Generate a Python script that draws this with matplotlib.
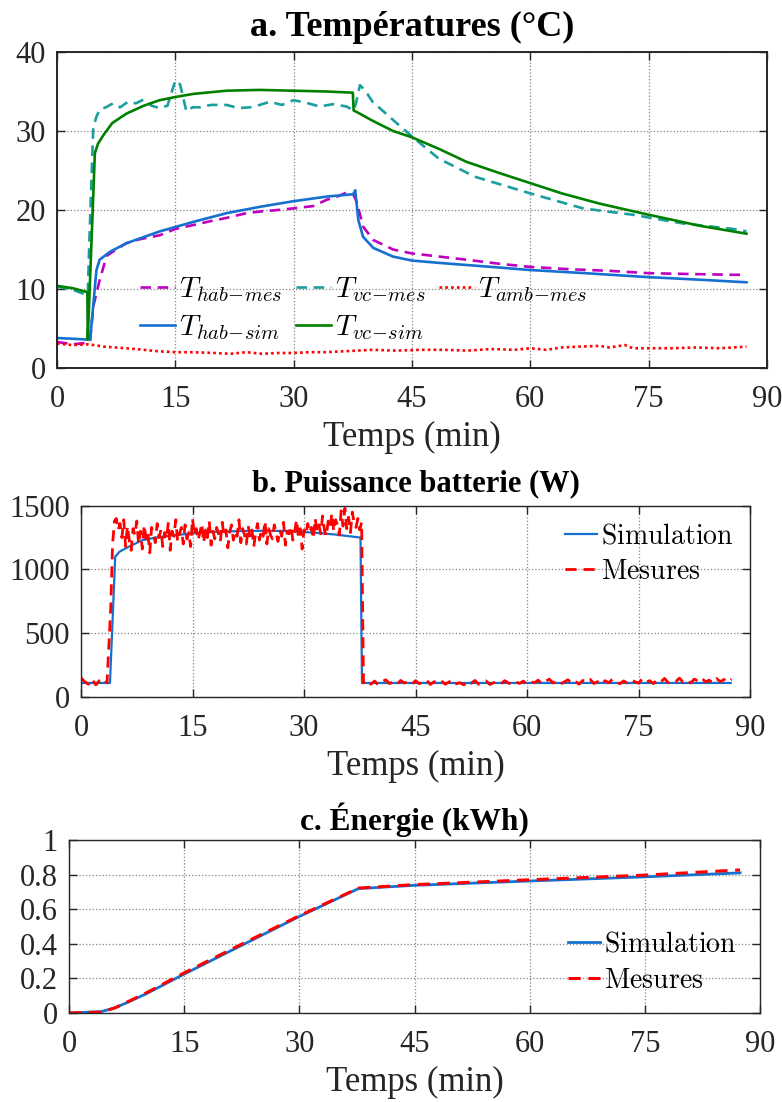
import numpy as np
import matplotlib.pyplot as plt

plt.rcParams['font.family'] = ['Liberation Serif', 'DejaVu Serif']
plt.rcParams['mathtext.fontset'] = 'cm'

# a. Températures (°C)
t_vc_sim = [0, 2, 3.85, 3.9, 4.8, 5.2, 5.9, 7, 8.8, 11, 13, 15, 17.3, 21.5, 25.7, 29.9, 34.2, 37.5,
            37.6, 38, 40, 42.6, 45, 48.5, 51.9, 56, 60, 64, 68.8, 75, 81.5, 87.4]
T_vc_sim = [10.4, 10.1, 9.6, 3.6, 27.2, 28.4, 29.5, 31.0, 32.2, 33.2, 33.9, 34.3, 34.7, 35.1, 35.2, 35.1, 35.0, 34.85,
            32.6, 32.4, 31.3, 30.0, 29.2, 27.7, 26.1, 24.7, 23.4, 22.1, 20.8, 19.4, 18.0, 17.0]

t_vc_mes = [0, 2, 3.9, 4.1, 4.6, 5.0, 5.4, 6.2, 7.1, 8.0, 9.0, 10.0, 11.0, 12.0, 13.0, 14.0, 15.0, 15.6,
            16.4, 17.2, 18.1, 19.5, 21.5, 23.0, 24.5, 25.7, 27.0, 28.5, 30.0, 31.5, 33.3, 35.0, 36.7, 37.6,
            37.9, 38.4, 39.0, 40.0, 42.6, 45.0, 48.4, 53.0, 60.0, 66.7, 73.0, 79.3, 85.7, 87.4]
T_vc_mes = [10.3, 9.9, 9.2, 16, 30.5, 31.8, 32.7, 33.0, 33.5, 33.0, 33.7, 33.5, 34.0, 33.2, 32.9, 33.2, 36.4, 35.9,
            32.5, 33.0, 33.0, 33.3, 33.3, 32.9, 33.0, 33.3, 33.7, 33.3, 33.9, 33.6, 33.1, 33.4, 33.1, 32.6,
            33.5, 35.8, 35.2, 33.7, 31.4, 29.3, 26.5, 24.2, 22.1, 20.2, 19.4, 18.3, 17.6, 17.3]

t_hab_sim = [0, 2, 3.9, 4.2, 5.0, 5.4, 6.7, 8.8, 13.05, 17.3, 21.5, 25.7, 29.9, 34.2, 37.6, 37.8,
             38.2, 38.8, 40.1, 42.6, 45, 48.5, 55, 60, 67, 75, 81, 87.4]
T_hab_sim = [3.8, 3.7, 3.6, 3.6, 12.4, 13.7, 14.7, 15.8, 17.3, 18.5, 19.6, 20.4, 21.1, 21.7, 22.0, 22.5,
             18.7, 16.6, 15.2, 14.1, 13.6, 13.3, 12.8, 12.4, 12.0, 11.5, 11.2, 10.85]

t_hab_mes = [0, 2, 3.9, 4.2, 4.6, 5.4, 6.3, 7.5, 8.8, 10.5, 13, 15, 17.3, 19.5, 21.5, 24, 25.7, 28, 29.9,
             32.5, 34.2, 35.5, 36.7, 37.5, 38.0, 38.8, 40.1, 42.6, 45, 48.5, 52, 56, 60, 65, 70, 75, 80, 85.7, 87.4]
T_hab_mes = [3.3, 3.0, 3.2, 3.5, 7.8, 11.1, 14.2, 15.0, 15.8, 16.3, 16.8, 17.6, 18.1, 18.6, 19.0, 19.6, 19.8, 20.0, 20.2,
             20.5, 21.3, 21.7, 22.2, 22.1, 21.0, 17.9, 16.2, 15.0, 14.5, 14.1, 13.7, 13.2, 12.8, 12.5, 12.3, 12.0, 11.9, 11.8, 11.8]

t_amb = [0, 2, 4, 6, 8.8, 11, 13, 15, 17, 20, 22, 24, 26, 28, 30, 32, 34, 36, 38, 40, 43, 46, 49,
         52, 55, 58, 60, 62, 64, 66, 68.8, 70, 72, 73, 75, 78, 81, 84, 87.4]
T_amb = [3.1, 2.9, 3.0, 2.7, 2.5, 2.3, 2.1, 2.0, 2.0, 1.9, 1.8, 2.0, 1.8, 1.9, 1.9, 2.0, 2.0, 2.1, 2.2, 2.3, 2.2, 2.3, 2.3,
         2.2, 2.4, 2.3, 2.5, 2.3, 2.6, 2.7, 2.8, 2.6, 2.9, 2.5, 2.5, 2.5, 2.6, 2.5, 2.7]

# b. Puissance batterie (W)
t_p_sim = [0, 3.8, 3.9, 4.6, 5.2, 6.4, 8.2, 10, 12.5, 15.6, 18.5, 21.8, 25, 28, 31.7, 34.2, 37.6, 37.8, 87.4]
P_sim = [110, 110, 110, 1100, 1140, 1177, 1229, 1250, 1268, 1287, 1296, 1302, 1303, 1302, 1287, 1274, 1250, 110, 110]

# mesures : 0.5 min avant/après, 0.25 min pendant la charge
t_p_mes = np.concatenate([np.arange(0, 4, 0.5), np.arange(4, 38, 0.25), np.arange(38, 88, 0.5)])
P_mes = [150, 120, 100, 140, 95, 130, 145, 110,
         700, 1200, 1380, 1400, 1310, 1360, 1250, 1390,
         1180, 1340, 1230, 1150, 1320, 1270, 1380, 1200,
         1300, 1160, 1350, 1240, 1290, 1130, 1330, 1270,
         1210, 1360, 1250, 1310, 1180, 1290, 1240, 1370,
         1150, 1300, 1260, 1390, 1220, 1280, 1330, 1200,
         1350, 1240, 1290, 1180, 1400, 1270, 1320, 1230,
         1290, 1360, 1210, 1310, 1250, 1380, 1190, 1300,
         1240, 1330, 1280, 1220, 1370, 1260, 1310, 1170,
         1290, 1350, 1230, 1300, 1260, 1390, 1210, 1320,
         1270, 1200, 1340, 1250, 1310, 1180, 1290, 1360,
         1230, 1300, 1260, 1380, 1200, 1320, 1270, 1240,
         1350, 1290, 1220, 1310, 1260, 1370, 1190, 1300,
         1280, 1340, 1230, 1300, 1390, 1250, 1320, 1160,
         1310, 1270, 1360, 1290, 1330, 1240, 1400, 1300,
         1350, 1280, 1420, 1310, 1260, 1380, 1330, 1440,
         1300, 1390, 1350, 1270, 1460, 1340, 1480, 1320,
         1410, 1290, 1450, 1360, 1330, 1400, 1310, 1370,
         110, 130, 100, 125, 95, 120, 135, 105, 118, 98, 130, 110, 122, 100, 128, 105, 115, 132, 98, 120,
         108, 126, 100, 118, 135, 104, 112, 95, 122, 108, 130, 100, 116, 126, 98, 112, 120, 104, 128, 110,
         98, 118, 106, 125, 100, 120, 112, 132, 104, 122, 140, 110, 126, 102, 118, 135, 108, 124, 100, 130,
         115, 138, 106, 120, 98, 128, 112, 140, 118, 104, 126, 110, 135, 120, 108, 142, 115, 128, 105, 135,
         118, 146, 112, 130, 120, 148, 116, 134, 110, 140, 125, 150, 118, 132, 112, 145, 120, 138, 115, 140]

# c. Énergie (kWh)
t_e = [0, 4.2, 6, 7.8, 10, 15, 22.8, 29.9, 37.7, 45, 60, 75, 87.4]
E_sim = [0, 0.008, 0.03, 0.065, 0.11, 0.225, 0.398, 0.556, 0.719, 0.738, 0.763, 0.787, 0.81]
E_mes = [0, 0.005, 0.03, 0.068, 0.115, 0.232, 0.405, 0.56, 0.722, 0.742, 0.77, 0.797, 0.827]

xticks = [0, 15, 30, 45, 60, 75, 90]

c_blue = '#1670d0'
c_green = '#008000'
c_teal = '#1a9e9e'
c_mag = '#c000c0'
c_red = '#ff0000'
c_ax = '#262626'

fig = plt.figure(figsize=(7.82, 11.02), dpi=100)
ax1 = fig.add_axes([57 / 782, 1 - 368 / 1102, 710 / 782, 316 / 1102])
ax2 = fig.add_axes([81 / 782, 1 - 697 / 1102, 669 / 782, 191.3 / 1102])
ax3 = fig.add_axes([69 / 782, 1 - 1013 / 1102, 691 / 782, 173 / 1102])


def style(ax, lw):
    ax.set_xlim(0, 90)
    ax.set_xticks(xticks)
    ax.grid(True, linestyle=':', color='#666666', lw=0.9, alpha=0.8)
    ax.set_axisbelow(True)
    ax.tick_params(direction='in', top=True, right=True, length=6, width=1, colors=c_ax,
                   labelsize=22)
    ax.tick_params(axis='x', pad=12)
    ax.tick_params(axis='y', pad=8)
    for s in ax.spines.values():
        s.set_linewidth(lw)
        s.set_color(c_ax)
    ax.set_xlabel('Temps (min)', fontsize=25, color=c_ax, labelpad=5)


# --- a ---
h_hab_mes, = ax1.plot(t_hab_mes, T_hab_mes, color=c_mag, lw=1.9, dashes=(4, 2.5))
h_vc_mes, = ax1.plot(t_vc_mes, T_vc_mes, color=c_teal, lw=1.9, dashes=(4, 2.5))
h_amb, = ax1.plot(t_amb, T_amb, color=c_red, lw=1.9, dashes=(1, 1.2))
h_hab_sim, = ax1.plot(t_hab_sim, T_hab_sim, color=c_blue, lw=1.9)
h_vc_sim, = ax1.plot(t_vc_sim, T_vc_sim, color=c_green, lw=1.9)
style(ax1, 1.4)
ax1.set_ylim(0, 40)
ax1.set_yticks([0, 10, 20, 30, 40])
ax1.set_title('a. Températures (°C)', fontsize=26, fontweight='bold', pad=11.5)
ax1.legend(handles=[h_hab_mes, h_hab_sim, h_vc_mes, h_vc_sim, h_amb],
           labels=[r'$T_{hab\!-\!mes}$', r'$T_{hab\!-\!sim}$', r'$T_{vc\!-\!mes}$', r'$T_{vc\!-\!sim}$',
                   r'$T_{amb\!-\!mes}$'],
           ncol=3, loc='center left', bbox_to_anchor=(0.117, 0.188), frameon=False, fontsize=21,
           borderpad=0, borderaxespad=0, handlelength=1.2, handletextpad=0.15, columnspacing=0.45,
           labelspacing=0.3)

# --- b ---
ax2.plot(t_p_sim, P_sim, color=c_blue, lw=1.6, label=r'$\mathrm{Simulation}$')
ax2.plot(t_p_mes, P_mes, color=c_red, lw=2.0, dashes=(4, 2.5), label=r'$\mathrm{Mesures}$')
style(ax2, 1.0)
ax2.set_ylim(0, 1500)
ax2.set_yticks([0, 500, 1000, 1500])
ax2.set_title('b. Puissance batterie (W)', fontsize=22, fontweight='bold', pad=10.5)
ax2.legend(loc='center left', bbox_to_anchor=(0.723, 0.745), frameon=False, fontsize=20,
           borderpad=0, borderaxespad=0, handlelength=1.15, handletextpad=0.15, labelspacing=0.37)

# --- c ---
ax3.plot(t_e, E_sim, color=c_blue, lw=2.0, label=r'$\mathrm{Simulation}$')
ax3.plot(t_e, E_mes, color=c_red, lw=2.2, dashes=(4, 2.5), label=r'$\mathrm{Mesures}$')
style(ax3, 1.0)
ax3.set_ylim(0, 1)
ax3.set_yticks([0, 0.2, 0.4, 0.6, 0.8, 1])
ax3.set_yticklabels(['0', '0.2', '0.4', '0.6', '0.8', '1'])
ax3.set_title('c. Énergie (kWh)', fontsize=22.5, fontweight='bold', pad=7)
ax3.legend(loc='center left', bbox_to_anchor=(0.722, 0.289), frameon=False, fontsize=20,
           borderpad=0, borderaxespad=0, handlelength=1.15, handletextpad=0.15, labelspacing=0.37)

fig.savefig('out.png', dpi=100)
